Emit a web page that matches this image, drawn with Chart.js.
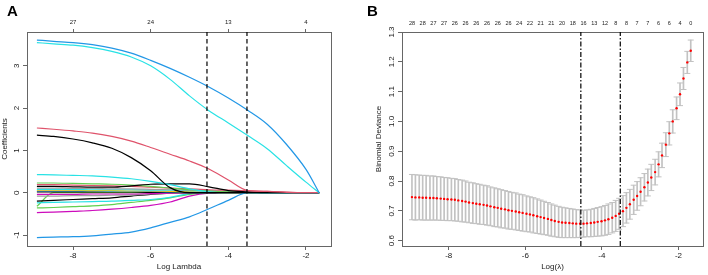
<!DOCTYPE html>
<html><head><meta charset="utf-8">
<script src="https://cdn.jsdelivr.net/npm/chart.js@4.4.1/dist/chart.umd.min.js"></script>
<style>
html,body{margin:0;padding:0;background:#fff;width:708px;height:275px;overflow:hidden;}
#wrap{position:relative;width:708px;height:275px;}
canvas{position:absolute;top:0;}
#cA{left:0;} #cB{left:355px;}
.lab{position:absolute;font:bold 15px "Liberation Sans",Arial,sans-serif;line-height:1;color:#000;}
</style></head><body>
<div id="wrap">
<canvas id="cA" width="355" height="275"></canvas>
<canvas id="cB" width="353" height="275"></canvas>
<div class="lab" style="left:7px;top:2.5px">A</div>
<div class="lab" style="left:367px;top:2.5px">B</div>
</div>
<script>
// ---------------- Panel A data: coefficient paths ----------------
const logLambdaA = [-8.93,-8.5,-8,-7.5,-7,-6.5,-6,-5.5,-5,-4.5,-4,-3.5,-3,-2.5,-2,-1.66];
const coefBlue1    = [3.61,3.58,3.55,3.50,3.42,3.30,3.13,2.94,2.73,2.50,2.24,1.95,1.62,1.14,0.55,0];
const coefCyan1    = [3.55,3.52,3.49,3.43,3.34,3.21,3.00,2.68,2.29,1.94,1.65,1.35,1.04,0.64,0.25,0];
const coefRed1     = [1.53,1.50,1.46,1.41,1.33,1.22,1.07,0.91,0.75,0.56,0.30,0.05,0.03,0.01,0,0];
const coefBlack1   = [1.36,1.33,1.27,1.18,1.05,0.83,0.52,0.12,0,0,0,0,0,0,0,0];
const coefCyan2    = [0.43,0.42,0.41,0.40,0.37,0.33,0.27,0.19,0.09,0.02,0,0,0,0,0,0];
const coefBlack2   = [0.15,0.15,0.14,0.13,0.13,0.16,0.20,0.21,0.21,0.14,0.05,0.02,0,0,0,0];
const coefGreen1   = [0.23,0.23,0.22,0.21,0.20,0.18,0.15,0.11,0.07,0.04,0.02,0,0,0,0,0];
const coefRed2     = [0.19,0.19,0.18,0.17,0.16,0.15,0.13,0.11,0.09,0.07,0.06,0.05,0.03,0.015,0,0];
const coefGray1    = [0.11,0.11,0.10,0.10,0.09,0.09,0.08,0.07,0.06,0.05,0.03,0.01,0,0,0,0];
const coefCyan3    = [0.08,0.08,0.08,0.07,0.07,0.07,0.06,0.06,0.05,0.04,0.02,0.01,0,0,0,0];
const coefYellow1  = [0.06,0.06,0.06,0.05,0.05,0.04,0.04,0.03,0.02,0.01,0,0,0,0,0,0];
const coefBlue3    = [0.04,0.04,0.04,0.04,0.03,0.03,0.03,0.02,0.02,0.01,0.01,0.005,0,0,0,0];
const coefBlack3   = [0.02,0.02,0.02,0.02,0.02,0.02,0.01,0.01,0,0,0,0,0,0,0,0];
const coefMagenta2 = [-0.04,-0.04,-0.04,-0.03,-0.03,-0.03,-0.02,-0.01,0,0,0,0,0,0,0,0];
const coefGray2    = [-0.08,-0.08,-0.07,-0.07,-0.06,-0.05,-0.03,-0.01,0,0,0,0,0,0,0,0];
const coefBlack4   = [-0.20,-0.18,-0.16,-0.14,-0.12,-0.08,-0.04,-0.01,0,0,0,0,0,0,0,0];
const coefCyan4    = [-0.24,-0.23,-0.22,-0.21,-0.20,-0.18,-0.16,-0.11,-0.02,0,0,0,0,0,0,0];
const coefGreen2   = [-0.32,0,0,0,0,0,0,0,0,0,0,0,0,0,0,0];
const coefGreen3   = [-0.36,-0.35,-0.33,-0.31,-0.28,-0.23,-0.18,-0.12,-0.04,0,0,0,0,0,0,0];
const coefMagenta1 = [-0.47,-0.46,-0.44,-0.42,-0.39,-0.35,-0.30,-0.22,-0.08,-0.01,0,0,0,0,0,0];
const coefBlue2    = [-1.06,-1.05,-1.04,-1.02,-0.98,-0.93,-0.83,-0.70,-0.57,-0.38,-0.18,0,0,0,0,0];

const bottomTicksA = [-8,-6,-4,-2];
const bottomTickLabelsA = ['-8','-6','-4','-2'];
const topTicksA = [-8,-6,-4,-2];
const topTickLabelsA = ['27','24','13','4'];
const leftTicksA = [-1,0,1,2,3];
const leftTickLabelsA = ['-1','0','1','2','3'];
const lambdaMinLog = -4.55;
const lambda1seLog = -3.52;

// ---------------- Panel B data: cross-validation ----------------
const logLambdaB = [-8.96,-8.87,-8.77,-8.68,-8.59,-8.49,-8.40,-8.31,-8.21,-8.12,
 -8.03,-7.93,-7.84,-7.75,-7.65,-7.56,-7.47,-7.37,-7.28,-7.19,
 -7.09,-7.00,-6.91,-6.81,-6.72,-6.63,-6.53,-6.44,-6.35,-6.25,
 -6.16,-6.07,-5.97,-5.88,-5.79,-5.69,-5.60,-5.51,-5.41,-5.32,
 -5.23,-5.13,-5.04,-4.95,-4.85,-4.76,-4.67,-4.57,-4.48,-4.39,
 -4.29,-4.20,-4.11,-4.01,-3.92,-3.83,-3.73,-3.64,-3.55,-3.45,
 -3.36,-3.27,-3.17,-3.08,-2.99,-2.89,-2.80,-2.71,-2.61,-2.52,
 -2.43,-2.33,-2.24,-2.15,-2.05,-1.96,-1.87,-1.77,-1.68];
const cvMean = [0.746,0.745,0.745,0.744,0.744,0.743,0.743,0.742,0.741,0.740,
 0.739,0.738,0.737,0.735,0.733,0.731,0.728,0.726,0.724,0.722,
 0.720,0.718,0.715,0.712,0.710,0.707,0.705,0.702,0.700,0.698,
 0.695,0.693,0.690,0.688,0.685,0.682,0.679,0.676,0.673,0.669,
 0.666,0.663,0.661,0.660,0.659,0.658,0.657,0.657,0.657,0.658,
 0.659,0.661,0.663,0.665,0.668,0.672,0.677,0.683,0.690,0.699,
 0.710,0.722,0.737,0.750,0.764,0.779,0.795,0.812,0.830,0.856,
 0.886,0.922,0.960,1.000,1.044,1.091,1.144,1.198,1.237];
const cvSd = [0.076,0.076,0.075,0.075,0.075,0.074,0.074,0.073,0.073,0.072,
 0.072,0.071,0.071,0.070,0.070,0.069,0.068,0.068,0.067,0.067,
 0.066,0.066,0.065,0.065,0.064,0.064,0.063,0.063,0.062,0.062,
 0.061,0.061,0.060,0.059,0.059,0.058,0.057,0.056,0.055,0.054,
 0.053,0.052,0.051,0.050,0.049,0.048,0.047,0.046,0.045,0.045,
 0.046,0.047,0.048,0.049,0.050,0.051,0.051,0.052,0.052,0.052,
 0.051,0.050,0.049,0.048,0.047,0.046,0.045,0.044,0.043,0.042,
 0.041,0.040,0.039,0.039,0.038,0.038,0.037,0.037,0.036];
const nonzeroLabelsB = ['28','28','27','27','26','26','26','26','26','26','24','22','21','21','20','18','16','13','12','8','8','7','7','6','6','4','0'];
const bottomTicksB = [-8,-6,-4,-2];
const bottomTickLabelsB = ['-8','-6','-4','-2'];
const leftTicksB = [0.6,0.7,0.8,0.9,1.0,1.1,1.2,1.3];
const leftTickLabelsB = ['0.6','0.7','0.8','0.9','1.0','1.1','1.2','1.3'];

// ---------------- styling ----------------
const FONT = '"Liberation Sans", Arial, sans-serif';
Chart.defaults.font.family = FONT;
const TXT = '#1a1a1a', AX = '#666';
const PAL = {black:'#000000', red:'#DF536B', green:'#61D04F', blue:'#2297E6', cyan:'#28E2E5', magenta:'#CD0BBC', yellow:'#F5C710', gray:'#9E9E9E'};

const seriesA = [
  [coefBlue1,'blue'],[coefCyan1,'cyan'],[coefRed1,'red'],[coefBlack1,'black'],
  [coefBlue2,'blue'],[coefCyan2,'cyan'],[coefBlack2,'black'],[coefGreen1,'green'],
  [coefRed2,'red'],[coefGray1,'gray'],[coefCyan3,'cyan'],[coefYellow1,'yellow'],
  [coefBlue3,'blue'],[coefBlack3,'black'],[coefMagenta2,'magenta'],[coefGray2,'gray'],
  [coefBlack4,'black'],[coefCyan4,'cyan'],[coefGreen2,'green'],[coefGreen3,'green'],
  [coefMagenta1,'magenta']
];

const setTicks = vals => s => { s.ticks = vals.map(v => ({value: v})); };
const labelsFrom = arr => (v, i) => arr[i];
const f = (size) => ({family: FONT, size: size});

// ---------------- Chart A ----------------
const yMinA = -1.26, yMaxA = 3.80, xMinA = -9.185, xMaxA = -1.356;
const dsA = [];
function vline(x, ymin, ymax, dash){
  return {type:'line', data:[{x:x,y:ymin},{x:x,y:ymax}], borderColor:'#000', borderWidth:1.2,
          borderDash:dash, pointRadius:0, tension:0, showLine:true, fill:false};
}
dsA.push(vline(lambdaMinLog, yMinA, yMaxA, [4.5,3]));
dsA.push(vline(lambda1seLog, yMinA, yMaxA, [4.5,3]));
seriesA.forEach(([vals, col]) => {
  dsA.push({type:'line', data: logLambdaA.map((x,i) => ({x:x, y:vals[i]})),
    borderColor: PAL[col], borderWidth: 1.2, pointRadius: 0, fill: false,
    cubicInterpolationMode: 'monotone'});
});

new Chart(document.getElementById('cA'), {
  type: 'line',
  data: {datasets: dsA},
  options: {
    responsive:false, animation:false, devicePixelRatio:1,
    layout:{padding:0},
    plugins:{legend:{display:false}, tooltip:{enabled:false}},
    scales:{
      x:{type:'linear', position:'bottom', min:xMinA, max:xMaxA, offset:false,
         afterBuildTicks: setTicks(bottomTicksA), afterFit: s => { s.height = 29; },
         ticks:{callback: labelsFrom(bottomTickLabelsA), font:f(8), color:TXT, padding:1, maxRotation:0, minRotation:0, autoSkip:false},
         grid:{drawOnChartArea:false, drawTicks:true, tickLength:4, color:AX},
         border:{display:true, color:AX, width:1},
         title:{display:true, text:'Log Lambda', font:f(8), color:TXT, padding:{top:0,bottom:3}}},
      x2:{type:'linear', position:'top', min:xMinA, max:xMaxA, offset:false,
         afterBuildTicks: setTicks(topTicksA), afterFit: s => { s.height = 32; },
         ticks:{callback: labelsFrom(topTickLabelsA), font:f(6), color:TXT, padding:2.7, maxRotation:0, minRotation:0, autoSkip:false},
         grid:{drawOnChartArea:false, drawTicks:true, tickLength:3, color:AX},
         border:{display:true, color:AX, width:1}},
      y:{type:'linear', position:'left', min:yMinA, max:yMaxA,
         afterBuildTicks: setTicks(leftTicksA), afterFit: s => { s.width = 27; },
         ticks:{callback: labelsFrom(leftTickLabelsA), font:f(8), color:TXT, padding:2.4, minRotation:90, maxRotation:90, crossAlign:'center', autoSkip:false},
         grid:{drawOnChartArea:false, drawTicks:true, tickLength:4, color:AX},
         border:{display:true, color:AX, width:1},
         title:{display:true, text:'Coefficients', font:f(8), color:TXT, padding:{top:0,bottom:0}}},
      y2:{type:'linear', position:'right', min:yMinA, max:yMaxA,
         afterFit: s => { s.width = 24; },
         ticks:{display:false},
         grid:{drawOnChartArea:false, drawTicks:false},
         border:{display:true, color:AX, width:1}}
    }
  }
});

// ---------------- Chart B ----------------
const yMinB = 0.582, yMaxB = 1.30, xMinB = -9.22, xMaxB = -1.36;
const cvUp = cvMean.map((m,i) => m + cvSd[i]);
const cvLo = cvMean.map((m,i) => m - cvSd[i]);
const topTicksB = logLambdaB.filter((_, i) => i % 3 === 0);
const BARC = '#c2c2c2';
const dsB = [
  vline(lambdaMinLog, yMinB, yMaxB, [5,2,1.5,2]),
  vline(lambda1seLog, yMinB, yMaxB, [5,2,1.5,2]),
  {type:'scatter', data: logLambdaB.map((x,i) => ({x:x, y:cvMean[i]})), pointRadius:1.2,
   pointBackgroundColor:'#ff0000', pointBorderWidth:0, showLine:false},
  {type:'scatter', data: logLambdaB.map((x,i) => ({x:x, y:cvUp[i]})), pointStyle:'line', pointRadius:3,
   pointBorderColor:BARC, pointBorderWidth:1, showLine:false},
  {type:'scatter', data: logLambdaB.map((x,i) => ({x:x, y:cvLo[i]})), pointStyle:'line', pointRadius:3,
   pointBorderColor:BARC, pointBorderWidth:1, showLine:false},
  {type:'bar', data: logLambdaB.map((x,i) => ({x:x, y:[cvLo[i], cvUp[i]]})), barThickness:1,
   backgroundColor:BARC, borderWidth:0}
];

new Chart(document.getElementById('cB'), {
  type: 'scatter',
  data: {datasets: dsB},
  options: {
    responsive:false, animation:false, devicePixelRatio:1,
    layout:{padding:0},
    plugins:{legend:{display:false}, tooltip:{enabled:false}},
    scales:{
      x:{type:'linear', position:'bottom', min:xMinB, max:xMaxB, offset:false,
         afterBuildTicks: setTicks(bottomTicksB), afterFit: s => { s.height = 29; },
         ticks:{callback: labelsFrom(bottomTickLabelsB), font:f(8), color:TXT, padding:1, maxRotation:0, minRotation:0, autoSkip:false},
         grid:{drawOnChartArea:false, drawTicks:true, tickLength:4, color:AX, offset:false},
         border:{display:true, color:AX, width:1},
         title:{display:true, text:'Log(λ)', font:f(8), color:TXT, padding:{top:0,bottom:3}}},
      x2:{type:'linear', position:'top', min:xMinB, max:xMaxB, offset:false,
         afterBuildTicks: setTicks(topTicksB), afterFit: s => { s.height = 32; },
         ticks:{callback: labelsFrom(nonzeroLabelsB), font:f(5.5), color:TXT, padding:4.9, maxRotation:0, minRotation:0, autoSkip:false},
         grid:{drawOnChartArea:false, drawTicks:false, color:AX},
         border:{display:true, color:AX, width:1}},
      y:{type:'linear', position:'left', min:yMinB, max:yMaxB,
         afterBuildTicks: setTicks(leftTicksB), afterFit: s => { s.width = 47; },
         ticks:{callback: labelsFrom(leftTickLabelsB), font:f(8), color:TXT, padding:0.5, minRotation:90, maxRotation:90, crossAlign:'center', autoSkip:false},
         grid:{drawOnChartArea:false, drawTicks:true, tickLength:4, color:AX},
         border:{display:true, color:AX, width:1},
         title:{display:true, text:'Binomial Deviance', font:f(8), color:TXT, padding:{top:18.5,bottom:0}}},
      y2:{type:'linear', position:'right', min:yMinB, max:yMaxB,
         afterFit: s => { s.width = 1; },
         ticks:{display:false},
         grid:{drawOnChartArea:false, drawTicks:false},
         border:{display:true, color:AX, width:1}}
    }
  }
});
</script>
</body></html>
